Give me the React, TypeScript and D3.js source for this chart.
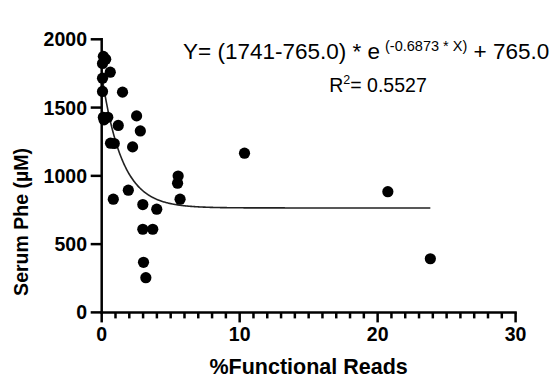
import React from 'react';
import * as d3 from 'd3';

// %Functional reads vs serum Phe, one entry per animal
const functionalReads = [
    0.12, 0.29, 0.06, 0.62, 0.06, 0.06, 1.51, 0.12, 0.44, 0.17,
    1.2, 2.53, 2.8, 0.64, 0.91, 2.24, 0.84, 1.93, 2.98, 3.99,
    2.98, 3.7, 3.03, 3.2, 5.54, 5.5, 5.68, 10.35, 20.74, 23.82
];
const serumPhe = [
    1875, 1854, 1823, 1759, 1715, 1618, 1613, 1429, 1429, 1410,
    1369, 1439, 1329, 1239, 1237, 1212, 829, 895, 790, 756,
    609, 609, 367, 254, 999, 946, 829, 1166, 884, 393
];

// one-phase decay fit
const fitTop = 1741;
const fitPlateau = 765.0;
const fitK = 0.6873;

const xTicks = [0, 10, 20, 30];
const xMinorTicks = d3.range(0, 31, 1);
const yTicks = [0, 500, 1000, 1500, 2000];

const MARGIN = { left: 101.7, right: 515.6, top: 39.3, bottom: 312.4 };
const FONT = '"Liberation Sans", Arial, sans-serif';

const App: React.FC = () => {
    const x = d3.scaleLinear().domain([0, 30]).range([MARGIN.left, MARGIN.right]);
    const y = d3.scaleLinear().domain([0, 2000]).range([MARGIN.bottom, MARGIN.top]);

    const points = functionalReads.map((v, i) => ({ x: v, y: serumPhe[i] }));
    const maxX = d3.max(functionalReads)!;
    const fitPts = d3.range(0, maxX, 0.05).concat([maxX]).map(v => ({
        x: v,
        y: (fitTop - fitPlateau) * Math.exp(-fitK * v) + fitPlateau
    }));
    const line = d3.line<{ x: number; y: number }>()
        .x(d => x(d.x))
        .y(d => y(d.y));

    return (
        <svg width={555} height={382} style={{ position: 'absolute', left: 0, top: 0, background: '#fff' }}>
            <rect width={555} height={382} fill="#fff" />

            {/* fit curve */}
            <path d={line(fitPts) ?? ''} fill="none" stroke="#222" strokeWidth={1.6} />

            {/* points */}
            {points.map((d, i) => (
                <circle key={i} cx={x(d.x)} cy={y(d.y)} r={5.6} fill="#000" />
            ))}

            {/* y axis */}
            <line x1={x(0)} x2={x(0)} y1={y(0) + 1.2} y2={y(2000) - 1.2} stroke="#000" strokeWidth={2.5} />
            {yTicks.map(t => (
                <g key={t}>
                    <line x1={x(0) - 11} x2={x(0)} y1={y(t)} y2={y(t)} stroke="#000" strokeWidth={2.5} />
                    <text x={87} y={y(t) + 7} textAnchor="end" fontFamily={FONT} fontWeight="bold" fontSize={19.5} fill="#000">{t}</text>
                </g>
            ))}

            {/* x axis */}
            <line x1={x(0) - 1.2} x2={x(30) + 1.2} y1={y(0)} y2={y(0)} stroke="#000" strokeWidth={2.5} />
            {xMinorTicks.map(t => (
                <line key={t} x1={x(t)} x2={x(t)} y1={y(0)} y2={y(0) + (t % 10 === 0 ? 10 : 6)} stroke="#000" strokeWidth={2.5} />
            ))}
            {xTicks.map(t => (
                <text key={t} x={x(t)} y={341} textAnchor="middle" fontFamily={FONT} fontWeight="bold" fontSize={19.5} fill="#000">{t}</text>
            ))}

            <text x={(x(0) + x(30)) / 2} y={374} textAnchor="middle" fontFamily={FONT} fontWeight="bold" fontSize={21.5} fill="#000">%Functional Reads</text>
            <text transform={`translate(28,222) rotate(-90)`} textAnchor="middle" fontFamily={FONT} fontWeight="bold" fontSize={19.5} fill="#000">Serum Phe (µM)</text>

            {/* equation */}
            <text x={183} y={59} fontFamily={FONT} fontSize={22.5} fill="#000">
                Y= (1741-765.0) * e
                <tspan dx={5} dy={-8} fontSize={14.5}>(-0.6873 * X)</tspan>
                <tspan dy={8}> + 765.0</tspan>
            </text>
            <text x={378} y={92} textAnchor="middle" fontFamily={FONT} fontSize={19.5} fill="#000">
                R<tspan dy={-8} fontSize={12.5}>2</tspan><tspan dy={8}>= 0.5527</tspan>
            </text>
        </svg>
    );
};

export default App;
